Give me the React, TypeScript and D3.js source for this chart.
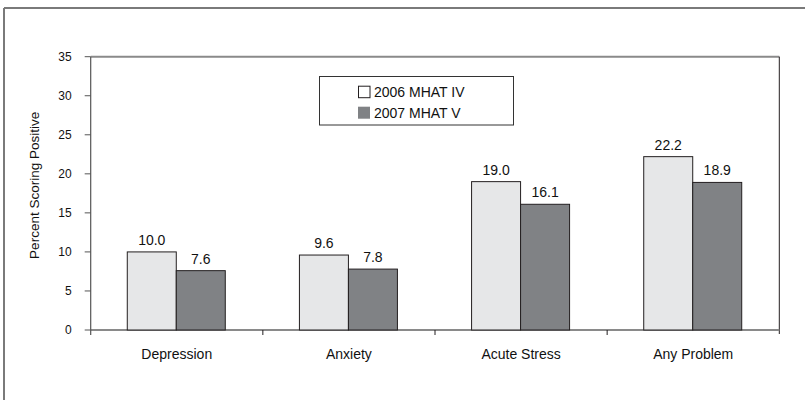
import React from "react";
import * as d3 from "d3";

const categories = ["Depression", "Anxiety", "Acute Stress", "Any Problem"];
const seriesNames = ["2006 MHAT IV", "2007 MHAT V"];
const values2006 = [10.0, 9.6, 19.0, 22.2];
const values2007 = [7.6, 7.8, 16.1, 18.9];
const yTicks = [0, 5, 10, 15, 20, 25, 30, 35];

const FONT = "'Liberation Sans', Arial, sans-serif";
const colors = ["#e6e7e8", "#808285"];

export default function App() {
  const W = 805, H = 400;
  const left = 90.7, right = 779.3, top = 56.7, bottom = 330;
  const x = d3.scaleBand<string>().domain(categories).range([left, right]).paddingInner(0).paddingOuter(0);
  const inner = d3.scaleBand<number>().domain([0, 1]).range([0, 98]);
  const y = d3.scaleLinear().domain([0, 35]).range([bottom, top]);
  const series = [values2006, values2007];
  const bw = x.bandwidth();

  return (
    <svg width={W} height={H} style={{ position: "absolute", left: 0, top: 0, background: "#fff" }} fontFamily={FONT}>
      {/* outer frame */}
      <line x1={4} x2={4} y1={8} y2={H} stroke="#7a7a7a" strokeWidth={2} />
      <line x1={4} x2={W} y1={8} y2={8} stroke="#7a7a7a" strokeWidth={2} />

      {/* plot frame */}
      <line x1={left} x2={right} y1={top} y2={top} stroke="#8a8a8a" strokeWidth={2} />
      <line x1={right} x2={right} y1={top} y2={bottom + 4} stroke="#231f20" strokeWidth={1} />
      <line x1={left} x2={right} y1={bottom} y2={bottom} stroke="#8a8a8a" strokeWidth={2} />
      <line x1={left} x2={left} y1={top} y2={bottom + 5} stroke="#555" strokeWidth={1.2} />

      {/* y ticks */}
      {yTicks.map((t) => (
        <g key={t}>
          <line x1={left - 6} x2={left} y1={y(t)} y2={y(t)} stroke="#555" strokeWidth={1} />
          <text x={left - 19} y={y(t)} dy="0.35em" textAnchor="end" fontSize={12} fill="#111">{t}</text>
        </g>
      ))}

      {/* x ticks */}
      {categories.slice(1).map((c) => (
        <line key={c} x1={x(c)!} x2={x(c)!} y1={bottom} y2={bottom + 5} stroke="#231f20" strokeWidth={1} />
      ))}

      {/* y title */}
      <text transform={`translate(39,${(top + bottom) / 2 - 8}) rotate(-90)`} textAnchor="middle" fontSize={13.5} fill="#111">
        Percent Scoring Positive
      </text>

      {/* bars */}
      {categories.map((c, i) => {
        const gx = x(c)! + bw / 2 - 49 - 0.5;
        return (
          <g key={c}>
            {series.map((s, k) => {
              const bx = gx + inner(k)!;
              const by = y(s[i]);
              return (
                <g key={k}>
                  <rect x={bx} y={by} width={inner.bandwidth()} height={bottom - by} fill={colors[k]} stroke="#231f20" strokeWidth={1} />
                  <text x={bx + inner.bandwidth() / 2} y={by - 7} textAnchor="middle" fontSize={14} fill="#111">
                    {s[i].toFixed(1)}
                  </text>
                </g>
              );
            })}
            <text x={x(c)! + bw / 2} y={359} textAnchor="middle" fontSize={14} fill="#111">{c}</text>
          </g>
        );
      })}

      {/* legend */}
      <rect x={319.5} y={76.5} width={194} height={48.5} fill="#fff" stroke="#333" strokeWidth={1} />
      {seriesNames.map((n, k) => (
        <g key={n}>
          <rect x={k === 0 ? 358.5 : 358} y={(k === 0 ? 91.7 : 112.7) - 6 + (k === 0 ? 0.5 : 0)} width={k === 0 ? 11.5 : 12} height={k === 0 ? 11.5 : 12}
            fill={k === 0 ? "#fff" : colors[1]} stroke={k === 0 ? "#231f20" : "none"} strokeWidth={1} />
          <text x={374} y={k === 0 ? 91.7 : 112.7} dy="0.36em" fontSize={14} fill="#111">{n}</text>
        </g>
      ))}
    </svg>
  );
}
